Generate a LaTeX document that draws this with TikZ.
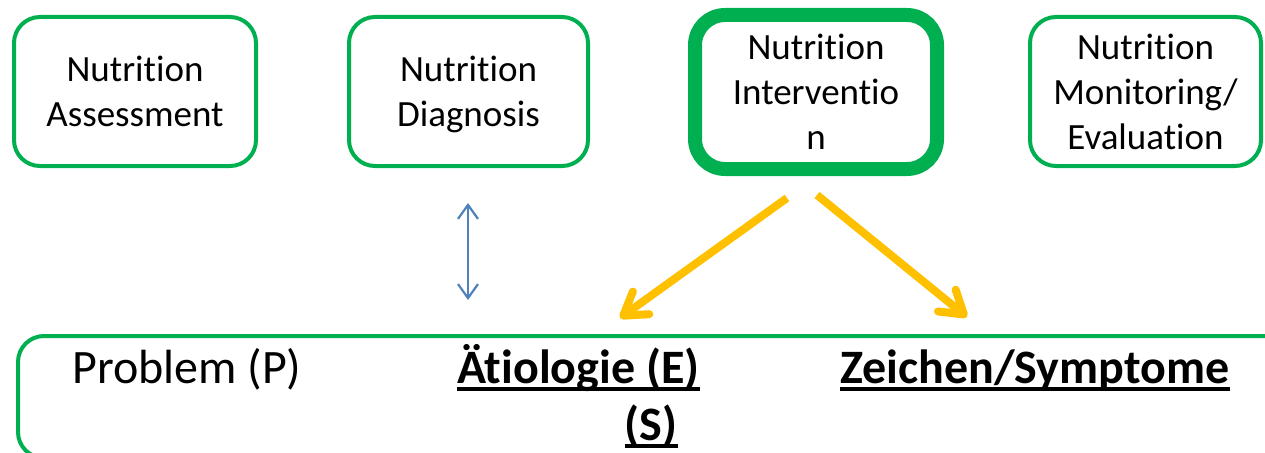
\documentclass[tikz,border=0pt]{standalone}
\usepackage{fontspec}
\setmainfont{Carlito}[Ligatures={NoCommon}]
\usetikzlibrary{arrows.meta}
\definecolor{boxgreen}{HTML}{00B050}
\definecolor{arrowyellow}{HTML}{FFC000}
\definecolor{arrowblue}{HTML}{4F81BD}
\newcommand\tIlig{t\kern0pt i}
\begin{document}
\begin{tikzpicture}[x=1pt,y=-1pt,
  stagebox/.style={draw=boxgreen, line width=4pt, rounded corners=26pt, align=center,
    font=\fontsize{37}{45}\selectfont, inner sep=0pt, minimum height=149pt},
  bigtext/.style={font=\fontsize{48}{57}\selectfont, inner sep=0pt},
  boldtext/.style={font=\fontsize{48}{57}\selectfont\bfseries, inner sep=0pt},
  yarrow/.style={draw=arrowyellow, line width=8pt, -{Straight Barb[length=22pt,width=28pt,round]}},
  barrow/.style={draw=arrowblue, line width=2.2pt, {Straight Barb[length=14pt,width=20pt]}-{Straight Barb[length=14pt,width=20pt]}},
  uline/.style={line width=4pt}
]
\useasboundingbox (0,0) rectangle (1265,452);
\clip (0,0) rectangle (1265,452);

\node[stagebox, minimum width=242pt] (b1) at (135,91.5) {Nutri\tIlig on\\Assessment};
\node[stagebox, minimum width=239pt] (b2) at (468.5,91.5) {Nutri\tIlig on\\Dia\smash{g}nosis};
\node[stagebox, minimum width=242pt, minimum height=154pt, line width=14pt, rounded corners=30pt] (b3) at (816,92) {Nutri\tIlig on\\Interven\tIlig o\\n};
\node[stagebox, minimum width=231pt] (b4) at (1145.5,91.5) {Nutri\tIlig on\\Monitoring/\\Evalua\tIlig on};

\node[draw=boxgreen, line width=4pt, rounded corners=26pt, inner sep=0pt,
  minimum width=1290pt, minimum height=122pt, anchor=north west] (frame) at (16,334) {};

\node[bigtext, anchor=base west] (p) at (72,383) {Problem (P)};
\node[boldtext, anchor=base west] (e) at (457,383) {Ä\tIlig ologie (E)};
\node[boldtext, anchor=base] (s) at (651,440) {(S)};
\node[boldtext, anchor=base west] (z) at (840,383) {Zeichen/Symptome};

\draw[uline] ([yshift=-6pt]e.base west) -- ([yshift=-6pt]e.base east);
\draw[uline] ([yshift=-6pt]s.base west) -- ([yshift=-6pt]s.base east);
\draw[uline] ([yshift=-6pt]z.base west) -- ([yshift=-6pt]z.base east);

\coordinate (bt) at (468,203);
\coordinate (bb) at (468,300);
\draw[barrow] (bt) -- (bb);

\coordinate (l0) at (787,198);
\coordinate (l1) at (620,318);
\coordinate (r0) at (817,195);
\coordinate (r1) at (967,317);
\draw[yarrow] (l0) -- (l1);
\draw[yarrow] (r0) -- (r1);
\end{tikzpicture}
\end{document}
